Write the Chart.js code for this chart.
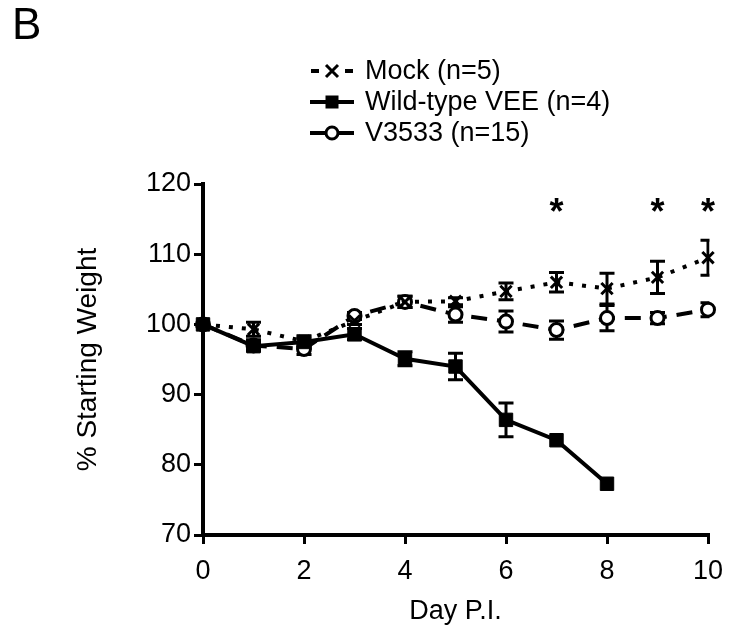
<!DOCTYPE html>
<html>
<head>
<meta charset="utf-8">
<script src="https://cdn.jsdelivr.net/npm/chart.js"></script>
<style>
html, body { margin: 0; padding: 0; background: #fff; }
#wrap { width: 731px; height: 629px; position: relative; }
#panel { position: absolute; left: 12px; top: -1px; font: 44px "Liberation Sans", Arial, sans-serif; color: #000; }
</style>
</head>
<body>
<div id="wrap">
<div id="panel">B</div>
<canvas id="weight-chart" width="731" height="629"></canvas>
</div>
<script>
// days post infection
var days = [0, 1, 2, 3, 4, 5, 6, 7, 8, 9, 10];
var wtDays = [0, 1, 2, 3, 4, 5, 6, 7, 8];

// % starting weight, mean and error
var mockMean = [100, 99.3, 97.6, 100.5, 103.2, 103.3, 104.7, 106.0, 105.1, 106.7, 109.5];
var mockErr = [0, 1.0, 0.8, 0.5, 0.8, 0.5, 1.2, 1.4, 2.2, 2.3, 2.5];
var wtMean = [100, 96.9, 97.5, 98.6, 95.1, 94.0, 86.4, 83.5, 77.3];
var wtErr = [0, 0.6, 0.5, 0.8, 1.0, 1.9, 2.4, 0, 0];
var v3533Mean = [100, 97.0, 96.5, 101.2, 103.2, 101.4, 100.4, 99.2, 100.9, 100.9, 102.1];
var v3533Err = [0, 0.8, 0.8, 0.5, 0.8, 1.1, 1.5, 1.3, 1.8, 0.8, 1.0];

// significance marks
var starDays = [7, 9, 10];
var starLevel = 116.6;

var seriesNames = ['Mock (n=5)', 'Wild-type VEE (n=4)', 'V3533 (n=15)'];
var yTitle = '% Starting Weight';
var xTitle = 'Day P.I.';

var FONT = '"Liberation Sans", Arial, sans-serif';

function toPoints(xs, ys) {
    return xs.map(function (d, i) { return { x: d, y: ys[i] }; });
}

var errorSets = [mockErr, wtErr, v3533Err];

// error bars drawn under the markers
var errorBars = {
    id: 'errorBars',
    beforeDatasetsDraw: function (chart) {
        var ctx = chart.ctx;
        var xs = chart.scales.x, ys = chart.scales.y;
        var area = chart.chartArea;
        ctx.save();
        ctx.beginPath();
        ctx.rect(area.left - 20, area.top - 40, area.right - area.left + 21.5, area.bottom - area.top + 40);
        ctx.clip();
        ctx.strokeStyle = '#000';
        ctx.lineWidth = 3;
        chart.data.datasets.forEach(function (ds, k) {
            var err = errorSets[k];
            ds.data.forEach(function (p, i) {
                if (!err[i]) return;
                var px = xs.getPixelForValue(p.x);
                var top = ys.getPixelForValue(p.y + err[i]);
                var bot = ys.getPixelForValue(p.y - err[i]);
                ctx.beginPath();
                ctx.moveTo(px, top); ctx.lineTo(px, bot);
                ctx.moveTo(px - 7.5, top); ctx.lineTo(px + 7.5, top);
                ctx.moveTo(px - 7.5, bot); ctx.lineTo(px + 7.5, bot);
                ctx.stroke();
            });
        });
        ctx.restore();
    }
};

// asterisks above the significant days
var stars = {
    id: 'stars',
    afterDatasetsDraw: function (chart) {
        var ctx = chart.ctx;
        ctx.save();
        ctx.fillStyle = '#000';
        ctx.font = 'bold 36px ' + FONT;
        ctx.textAlign = 'center';
        ctx.textBaseline = 'middle';
        starDays.forEach(function (d) {
            ctx.fillText('*', chart.scales.x.getPixelForValue(d), chart.scales.y.getPixelForValue(starLevel) + 6);
        });
        ctx.restore();
    }
};

function drawMarker(ctx, kind, x, y) {
    ctx.save();
    ctx.lineWidth = 3;
    ctx.strokeStyle = '#000';
    ctx.fillStyle = '#000';
    ctx.setLineDash([]);
    if (kind === 'cross') {
        ctx.beginPath();
        ctx.moveTo(x - 6, y - 6); ctx.lineTo(x + 6, y + 6);
        ctx.moveTo(x + 6, y - 6); ctx.lineTo(x - 6, y + 6);
        ctx.stroke();
    } else if (kind === 'rect') {
        ctx.fillRect(x - 6.5, y - 6.5, 13, 13);
    } else {
        ctx.fillStyle = '#fff';
        ctx.beginPath();
        ctx.arc(x, y, 6, 0, Math.PI * 2);
        ctx.fill();
        ctx.stroke();
    }
    ctx.restore();
}

// three-row legend above the plot
var legendRows = {
    id: 'legendRows',
    afterDraw: function (chart) {
        var ctx = chart.ctx;
        var kinds = ['cross', 'rect', 'circle'];
        var rowY = [71, 102, 133];
        var x0 = 310;
        ctx.save();
        chart.data.datasets.forEach(function (ds, k) {
            var y = rowY[k];
            ctx.strokeStyle = '#000';
            ctx.lineWidth = 4;
            ctx.beginPath();
            if (k === 0) {
                ctx.moveTo(x0 + 1, y); ctx.lineTo(x0 + 9, y);
                ctx.moveTo(x0 + 35, y); ctx.lineTo(x0 + 43, y);
            } else {
                ctx.moveTo(x0, y); ctx.lineTo(x0 + 44, y);
            }
            ctx.stroke();
            drawMarker(ctx, kinds[k], x0 + 22, y);
            ctx.fillStyle = '#000';
            ctx.font = '27px ' + FONT;
            ctx.textAlign = 'left';
            ctx.textBaseline = 'middle';
            ctx.fillText(seriesNames[k], 365, y + 1);
        });
        ctx.restore();
    }
};

var tickFont = { family: FONT, size: 27 };
var titleFont = { family: FONT, size: 27 };

var weightChart = new Chart(document.getElementById('weight-chart'), {
    type: 'line',
    data: {
        datasets: [
            {
                label: seriesNames[0],
                data: toPoints(days, mockMean),
                borderColor: '#000',
                borderWidth: 4,
                borderDash: [4, 9],
                pointStyle: 'crossRot',
                pointRadius: 8,
                pointBorderWidth: 3,
                pointBorderColor: '#000',
                pointBackgroundColor: '#000',
                tension: 0,
                fill: false,
                clip: false
            },
            {
                label: seriesNames[1],
                data: toPoints(wtDays, wtMean),
                borderColor: '#000',
                borderWidth: 4,
                pointStyle: 'rect',
                pointRadius: 9.5,
                pointBorderWidth: 1,
                pointBorderColor: '#000',
                pointBackgroundColor: '#000',
                tension: 0,
                fill: false,
                clip: false
            },
            {
                label: seriesNames[2],
                data: toPoints(days, v3533Mean),
                borderColor: '#000',
                borderWidth: 4,
                borderDash: [16, 10],
                pointStyle: 'circle',
                pointRadius: 6.5,
                pointBorderWidth: 3,
                pointBorderColor: '#000',
                pointBackgroundColor: '#fff',
                tension: 0,
                fill: false,
                clip: false
            }
        ]
    },
    options: {
        responsive: false,
        animation: false,
        events: [],
        layout: { padding: { top: 184, right: 23, bottom: 0, left: 0 } },
        plugins: {
            legend: { display: false },
            tooltip: { enabled: false }
        },
        scales: {
            x: {
                type: 'linear',
                min: 0,
                max: 10,
                ticks: { stepSize: 2, color: '#000', font: tickFont, padding: 11 },
                grid: { drawOnChartArea: false, tickLength: 9, lineWidth: 3, color: '#000' },
                border: { width: 4, color: '#000' },
                title: { display: true, text: xTitle, color: '#000', font: titleFont, padding: { top: 0, bottom: 1 } },
                afterFit: function (s) { s.height = 94; s.paddingLeft = 0; s.paddingRight = 0; }
            },
            y: {
                min: 70,
                max: 120,
                ticks: { stepSize: 10, color: '#000', font: tickFont, padding: 3 },
                grid: { drawOnChartArea: false, tickLength: 9, lineWidth: 3, color: '#000' },
                border: { width: 4, color: '#000' },
                title: { display: true, text: yTitle, color: '#000', font: { family: FONT, size: 28 }, padding: { top: 71, bottom: 0 } },
                afterFit: function (s) { s.width = 203; }
            }
        }
    },
    plugins: [errorBars, stars, legendRows]
});
</script>
</body>
</html>
